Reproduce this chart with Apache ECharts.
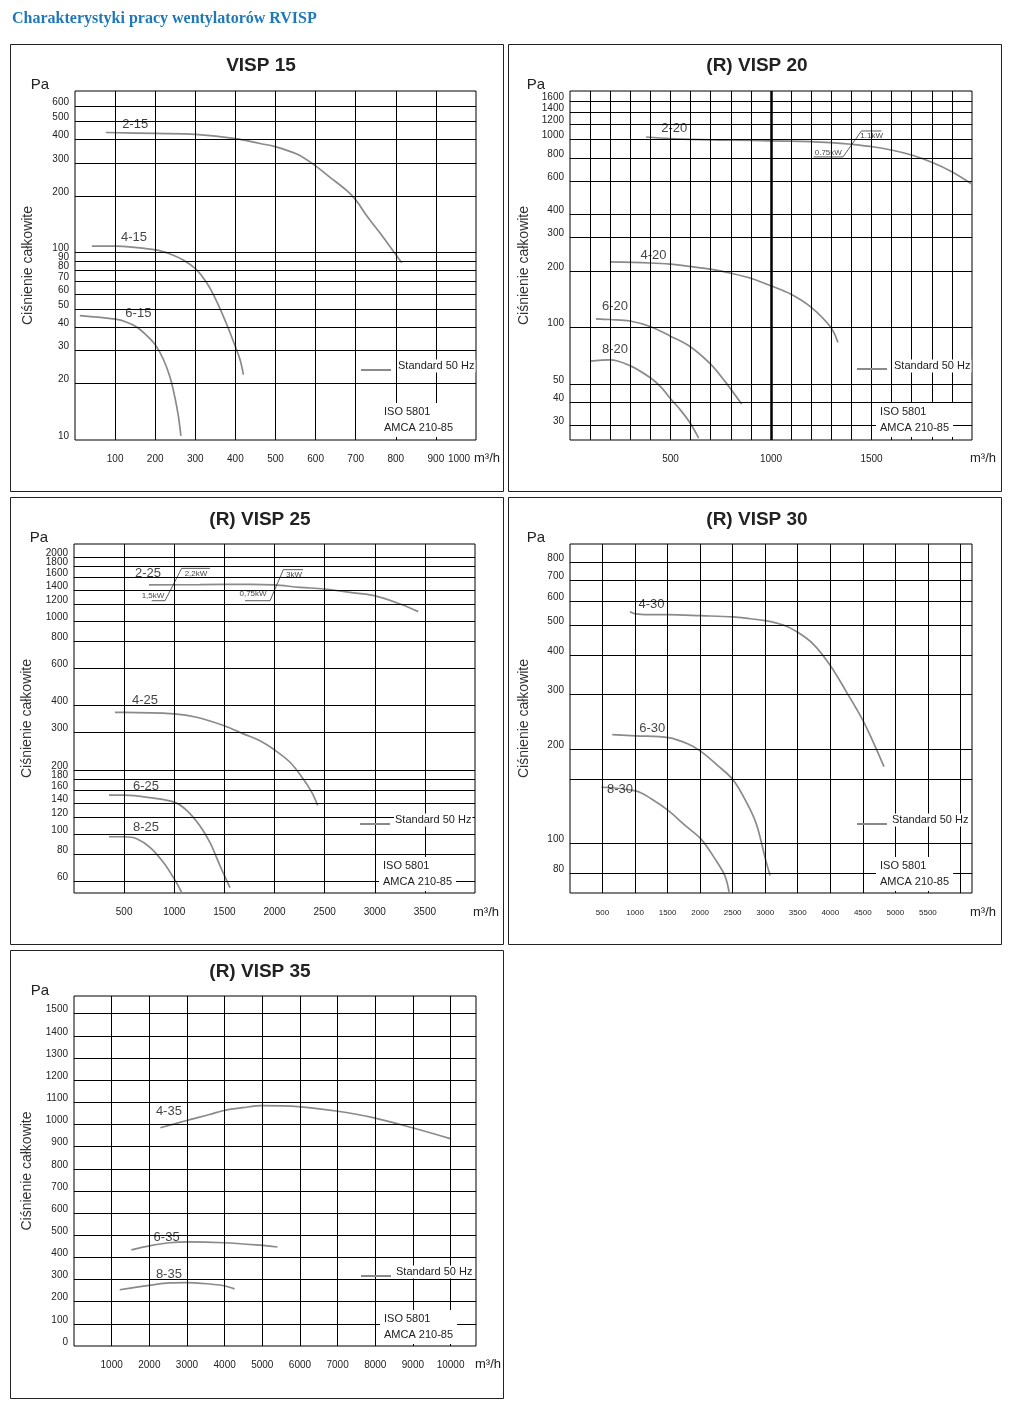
<!DOCTYPE html>
<html><head><meta charset="utf-8">
<script src="https://cdn.jsdelivr.net/npm/echarts@6/dist/echarts.min.js"></script>
<style>html,body{margin:0;padding:0;background:#fff;}#c{width:1012px;height:1407px;}</style>
</head><body><div id="c"></div>
<script>
// ---------- DATA (flow m³/h, pressure Pa) ----------
// VISP 15
const c2_15 = [[77,435],[201,430],[301,425],[401,404],[461,380],[499,366],[553,334],[594,295],[636,251],[678,213],[702,188],[727,157],[769,120],[802,96],[815,88]];
const c4_15 = [[42,108],[101,108],[201,103],[237,98],[270,91],[301,81.5],[328,69],[353,55],[378,41.5],[401,31],[412,26.6],[420,22.3]];
const c6_15 = [[12,46],[101,44],[129,42.4],[154,40],[179,36],[201,32],[220,27],[237,21.6],[249,16.9],[258,13.3],[264,10.5]];
// (R) VISP 20
const c2_20 = [[378,1032],[497,1012],[697,995],[902,990],[1002,983],[1199,976],[1297,964],[1398,944],[1497,918],[1604,877],[1703,825],[1803,755],[1902,672],[2000,578]];
const c4_20 = [[198,223],[398,220],[497,217],[597,211],[697,204],[800,194],[902,182],[1002,166],[1100,150],[1199,128],[1297,100],[1333,83]];
const c6_20 = [[129,111],[199,110],[298,108],[398,101],[497,90],[597,79],[697,64],[768,52],[854,39]];
const c8_20 = [[99,66],[199,67],[298,62.5],[398,54],[453,48],[497,42],[552,36],[597,31],[640,25.7]];
// (R) VISP 25
const c2_25 = [[748,1476],[1257,1481],[1756,1486],[1995,1476],[2254,1438],[2494,1413],[2753,1362],[2995,1315],[3252,1202],[3434,1106]];
const c4_25 = [[409,372],[502,372],[1000,366],[1224,353],[1499,322],[1689,295],[1855,274],[1995,249],[2155,217],[2287,181],[2371,157],[2431,136]];
const c6_25 = [[349,152],[502,152],[758,148],[1000,141],[1124,129],[1257,109],[1357,91],[1456,71],[1556,56]];
const c8_25 = [[349,97],[502,97],[625,95],[758,86.5],[891,73.6],[1000,61.5],[1074,53.2]];
// (R) VISP 30
const c4_30 = [[921,554],[1007,545],[1202,542],[1514,542],[2011,538],[2511,533],[2768,526],[3002,519],[3279,502],[3500,476],[3739,436],[4000,372],[4252,305],[4491,250],[4660,211],[4825,176]];
const c6_30 = [[649,223],[1007,221],[1513,218],[1816,208],[2011,197],[2276,177],[2511,159],[2737,132],[2870,114],[3002,89],[3075,78.5]];
const c8_30 = [[485,151],[1007,147],[1253,138.5],[1513,127],[1765,114],[2011,103],[2226,89],[2379,78.5],[2445,69.5]];
// (R) VISP 35
const c4_35 = [[2292,985],[2990,1018],[3600,1045],[3980,1063],[4484,1076],[4988,1085],[5953,1081],[6961,1061],[7970,1030],[8986,985],[10012,935]];
const c6_35 = [[1523,434],[2000,452],[2539,466],[2990,470],[3980,466],[4927,455],[5404,447]];
const c8_35 = [[1215,254],[2000,274],[2539,285],[2990,286],[3600,280],[3980,272],[4263,258]];

// motor power change markers
const note20 = [[1212,808],[1358,808],[1450,1111],[1549,1111]];
const note25a = [[775,1245],[908,1245],[1074,1766],[1357,1766]];
const note25b = [[1706,1245],[1955,1245],[2088,1741],[2284,1741]];

// curve / note labels
const tags15 = [['2-15',150,481,13],['4-15',147,120,13],['6-15',158,47,13]];
const tags20 = [['2-20',519,1144,13],['4-20',415,240,13],['6-20',224,129,13],['8-20',224,76,13],['0.75kW',1285,851,8],['1.1kW',1501,1041,8]];
const tags25 = [['2-25',738,1667,13],['4-25',708,425,13],['6-25',718,167,13],['8-25',718,107,13],['1,5kW',788,1315,8],['2,2kW',1217,1659,8],['0,75kW',1786,1336,8],['3kW',2195,1641,8]];
const tags30 = [['4-30',1253,583,13],['6-30',1263,233,13],['8-30',767,149,13]];
const tags35 = [['4-35',2520,1061,13],['6-35',2459,490,13],['8-35',2520,325,13]];

// grid lines & tick labels
const grid15X = [100,200,300,400,500,600,700,800,900];
const grid15Y = [20,30,40,50,60,70,80,90,100,200,300,400,500,600];
const label15X = [100,200,300,400,500,600,700,800,900,1000];
const label15Y = [10,20,30,40,50,60,70,80,90,100,200,300,400,500,600];

const grid20X = [100,200,300,400,500,600,700,800,900,1100,1200,1300,1400,1500,1600,1700,1800,1900];
const thick20X = [1000];
const grid20Y = [30,40,50,100,200,300,400,600,800,1000,1200,1400,1600];
const label20X = [500,1000,1500];
const label20Y = [30,40,50,100,200,300,400,600,800,1000,1200,1400,1600];

const grid25X = [500,1000,1500,2000,2500,3000,3500];
const grid25Y = [60,80,100,120,140,160,180,200,300,400,600,800,1000,1200,1400,1600,1800,2000];
const label25X = [500,1000,1500,2000,2500,3000,3500];
const label25Y = [60,80,100,120,140,160,180,200,300,400,600,800,1000,1200,1400,1600,2000];
const label25Yb = [1800];

const grid30X = [500,1000,1500,2000,2500,3000,3500,4000,4500,5000,5500,6000];
const grid30Y = [80,100,160,200,300,400,500,600,700,800];
const label30X = [500,1000,1500,2000,2500,3000,3500,4000,4500,5000,5500];
const label30Y = [80,100,200,300,400,500,600,700,800];

const grid35X = [1000,2000,3000,4000,5000,6000,7000,8000,9000,10000];
const grid35Y = [100,200,300,400,500,600,700,800,900,1000,1100,1200,1300,1400,1500];
const label35X = [1000,2000,3000,4000,5000,6000,7000,8000,9000,10000];
const label35Y = [0,100,200,300,400,500,600,700,800,900,1000,1100,1200,1300,1400,1500];

// ---------- LAYOUT ----------
const FONT = '"Liberation Sans", Arial, sans-serif';
const panels = [
  {title:'VISP 15', box:[10,44,493,447], grid:{left:75,top:91,width:401,height:349},
   x:{min:0,max:1000,grid:grid15X,thick:[],labels:label15X,fs:10,margin:14,shiftLast:34},
   y:{type:'log',min:9.99,max:724,grid:grid15Y,labels:label15Y,extra:[],gap:40},
   curves:[c2_15,c4_15,c6_15], notes:[], tags:tags15,
   d:{t:[261,66],pa:[40,85],u:[474,458],leg:[361,391,370],lt:[397,366],iso:[384,403]}},
  {title:'(R) VISP 20', box:[508,44,493,447], grid:{left:570,top:91,width:402,height:349},
   x:{min:0,max:2000,grid:grid20X,thick:thick20X,labels:label20X,fs:10,margin:14,shiftLast:0},
   y:{type:'log',min:25.1,max:1814,grid:grid20Y,labels:label20Y,extra:[],gap:39},
   curves:[c2_20,c4_20,c6_20,c8_20], notes:[note20], tags:tags20,
   d:{t:[757,66],pa:[536,85],u:[970,458],leg:[857,887,369],lt:[893,366],iso:[880,403]}},
  {title:'(R) VISP 25', box:[10,497,493,447], grid:{left:74,top:544,width:401,height:349},
   x:{min:0,max:4000,grid:grid25X,thick:[],labels:label25X,fs:10,margin:14,shiftLast:0},
   y:{type:'log',min:52.8,max:2298,grid:grid25Y,labels:label25Y,extra:label25Yb,gap:40},
   curves:[c2_25,c4_25,c6_25,c8_25], notes:[note25a,note25b], tags:tags25,
   d:{t:[260,520],pa:[39,538],u:[473,912],leg:[360,390,824],lt:[394,820],iso:[383,857]}},
  {title:'(R) VISP 30', box:[508,497,493,447], grid:{left:570,top:544,width:402,height:349},
   x:{min:0,max:6178,grid:grid30X,thick:[],labels:label30X,fs:8,margin:16,shiftLast:0},
   y:{type:'log',min:69,max:915,grid:grid30Y,labels:label30Y,extra:[],gap:39},
   curves:[c4_30,c6_30,c8_30], notes:[], tags:tags30,
   d:{t:[757,520],pa:[536,538],u:[970,912],leg:[857,887,824],lt:[891,820],iso:[880,857]}},
  {title:'(R) VISP 35', box:[10,950,493,448], grid:{left:74,top:996,width:402,height:350},
   x:{min:0,max:10675,grid:grid35X,thick:[],labels:label35X,fs:10,margin:14,shiftLast:0},
   y:{type:'value',min:0,max:1580,grid:grid35Y,labels:label35Y,extra:[],gap:40},
   curves:[c4_35,c6_35,c8_35], notes:[], tags:tags35,
   d:{t:[260,972],pa:[40,991],u:[475,1364],leg:[361,391,1276],lt:[395,1272],iso:[384,1310]}}
];

const grids=[], xAxes=[], yAxes=[], series=[], graphic=[];
function yLabelStyle(vals){
  return {customValues:vals,fontSize:10,color:'#222',fontFamily:FONT,margin:6,
    showMinLabel:true,showMaxLabel:true,hideOverlap:false,
    verticalAlign:'bottom',lineHeight:8,formatter:v=>String(Math.round(v))};
}
panels.forEach((p,i)=>{
  grids.push(Object.assign({show:true,borderColor:'#000',borderWidth:1,backgroundColor:'transparent'},p.grid));
  const lastX = p.x.labels[p.x.labels.length-1];
  const xi = xAxes.length;
  xAxes.push({gridIndex:i,type:'value',min:p.x.min,max:p.x.max,
    axisLine:{show:false},axisTick:{show:false},splitLine:{show:false},
    axisLabel:{customValues:p.x.labels,fontSize:p.x.fs,color:'#222',fontFamily:FONT,margin:p.x.margin,
      showMinLabel:true,showMaxLabel:true,
      formatter:v=>{const s=String(Math.round(v)); return (p.x.shiftLast && Math.round(v)===lastX)?'{r|'+s+'}':s;},
      rich:{r:{fontSize:p.x.fs,color:'#222',fontFamily:FONT,padding:[0,p.x.shiftLast,0,0]}}}});
  const yi = yAxes.length;
  yAxes.push({gridIndex:i,type:p.y.type,logBase:10,min:p.y.min,max:p.y.max,position:'left',
    axisLine:{show:false},axisTick:{show:false},splitLine:{show:false},
    axisLabel:yLabelStyle(p.y.labels),
    name:'Ciśnienie całkowite',nameLocation:'middle',nameRotate:90,nameGap:p.y.gap,
    nameTextStyle:{fontSize:14,color:'#333',fontFamily:FONT}});
  if (p.y.extra.length){
    // second label row on the same scale (avoids automatic hiding of crowded labels)
    yAxes.push({gridIndex:i,type:p.y.type,logBase:10,min:p.y.min,max:p.y.max,position:'left',offset:0,
      axisLine:{show:false},axisTick:{show:false},splitLine:{show:false},
      axisLabel:yLabelStyle(p.y.extra)});
  }
  const ml = [];
  p.x.grid.forEach(v=>ml.push({xAxis:v}));
  p.x.thick.forEach(v=>ml.push({xAxis:v,lineStyle:{width:2.5,color:'#000'}}));
  p.y.grid.forEach(v=>ml.push({yAxis:v}));
  series.push({type:'line',xAxisIndex:xi,yAxisIndex:yi,data:[],z:1,silent:true,
    markLine:{silent:true,animation:false,symbol:['none','none'],label:{show:false},
      lineStyle:{color:'#000',width:1,type:'solid'},emphasis:{disabled:true},data:ml}});
  p.curves.forEach(c=>series.push({type:'line',xAxisIndex:xi,yAxisIndex:yi,data:c,smooth:0.35,
    symbol:'none',silent:true,z:3,lineStyle:{color:'#8a8a8a',width:1.7}}));
  p.notes.forEach(c=>series.push({type:'line',xAxisIndex:xi,yAxisIndex:yi,data:c,smooth:false,
    symbol:'none',silent:true,z:3,lineStyle:{color:'#333',width:0.8}}));
  series.push({type:'scatter',xAxisIndex:xi,yAxisIndex:yi,silent:true,z:4,symbolSize:1,
    itemStyle:{color:'rgba(0,0,0,0)'},
    label:{show:true,position:'inside',formatter:'{b}',color:'#111',fontFamily:FONT},
    data:p.tags.map(t=>({name:t[0],value:[t[1],t[2]],
      label:{show:true,position:'inside',formatter:'{b}',fontSize:t[3],color:'#111',fontFamily:FONT}}))});
  // decorations
  const b=p.box, d=p.d;
  graphic.push({type:'rect',z:50,shape:{x:b[0]+0.5,y:b[1]+0.5,width:b[2],height:b[3]},style:{fill:null,stroke:'#222',lineWidth:1}});
  graphic.push({type:'text',z:50,x:d.t[0],y:d.t[1],style:{text:p.title,font:'bold 19px '+FONT,fill:'#222',align:'center',verticalAlign:'middle',textAlign:'center',textVerticalAlign:'middle'}});
  graphic.push({type:'text',z:50,x:d.pa[0],y:d.pa[1],style:{text:'Pa',font:'15px '+FONT,fill:'#222',align:'center',verticalAlign:'middle',textAlign:'center',textVerticalAlign:'middle'}});
  graphic.push({type:'text',z:50,x:d.u[0],y:d.u[1],style:{text:'m³/h',font:'13px '+FONT,fill:'#222',align:'left',verticalAlign:'middle',textAlign:'left',textVerticalAlign:'middle'}});
  graphic.push({type:'line',z:50,shape:{x1:d.leg[0],y1:d.leg[2],x2:d.leg[1],y2:d.leg[2]},style:{stroke:'#8a8a8a',lineWidth:2}});
  graphic.push({type:'text',z:50,x:d.lt[0],y:d.lt[1],style:{text:'Standard 50 Hz',font:'11px '+FONT,fill:'#222',align:'left',verticalAlign:'middle',textAlign:'left',textVerticalAlign:'middle',backgroundColor:'#fff',padding:[1,1,1,1]}});
  graphic.push({type:'text',z:50,x:d.iso[0]-4,y:d.iso[1],style:{text:'ISO 5801\nAMCA 210-85',font:'11px '+FONT,lineHeight:16,fill:'#222',align:'left',verticalAlign:'top',textAlign:'left',textVerticalAlign:'top',backgroundColor:'#fff',padding:[1,4,1,4]}});
});

const chart = echarts.init(document.getElementById('c'), null, {renderer:'canvas',width:1012,height:1407});
chart.setOption({
  animation:false,
  backgroundColor:'#fff',
  title:{text:'Charakterystyki pracy wentylatorów RVISP',left:7,top:6,
    textStyle:{fontFamily:'"Liberation Serif", "Times New Roman", serif',fontWeight:'bold',fontSize:16,color:'#1f78b8'}},
  grid:grids, xAxis:xAxes, yAxis:yAxes, series:series, graphic:graphic
});
</script></body></html>
